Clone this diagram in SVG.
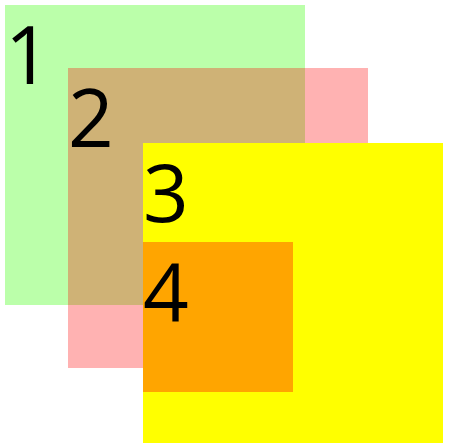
<svg xmlns="http://www.w3.org/2000/svg" width="451" height="448" viewBox="0 0 451 448">
<style>
text { font-family: "Open Sans", "Noto Sans", "DejaVu Sans", sans-serif; font-size: 80px; fill: #000; }
</style>
<rect width="451" height="448" fill="#ffffff"/>
<g id="box1"><rect x="5" y="5" width="300" height="300" fill="#bbffaa"/><text x="5" y="84">1</text></g>
<g id="box2"><rect x="68" y="68" width="300" height="300" fill="#ff0000" fill-opacity="0.3"/><text x="68" y="147">2</text></g>
<g id="box3"><rect x="143" y="143" width="300" height="300" fill="#ffff00"/><text x="143" y="222">3</text></g>
<g id="box4"><rect x="143" y="242" width="150" height="150" fill="#ffa500"/><text x="143" y="321">4</text></g>
<g id="connectors"/>
</svg>
